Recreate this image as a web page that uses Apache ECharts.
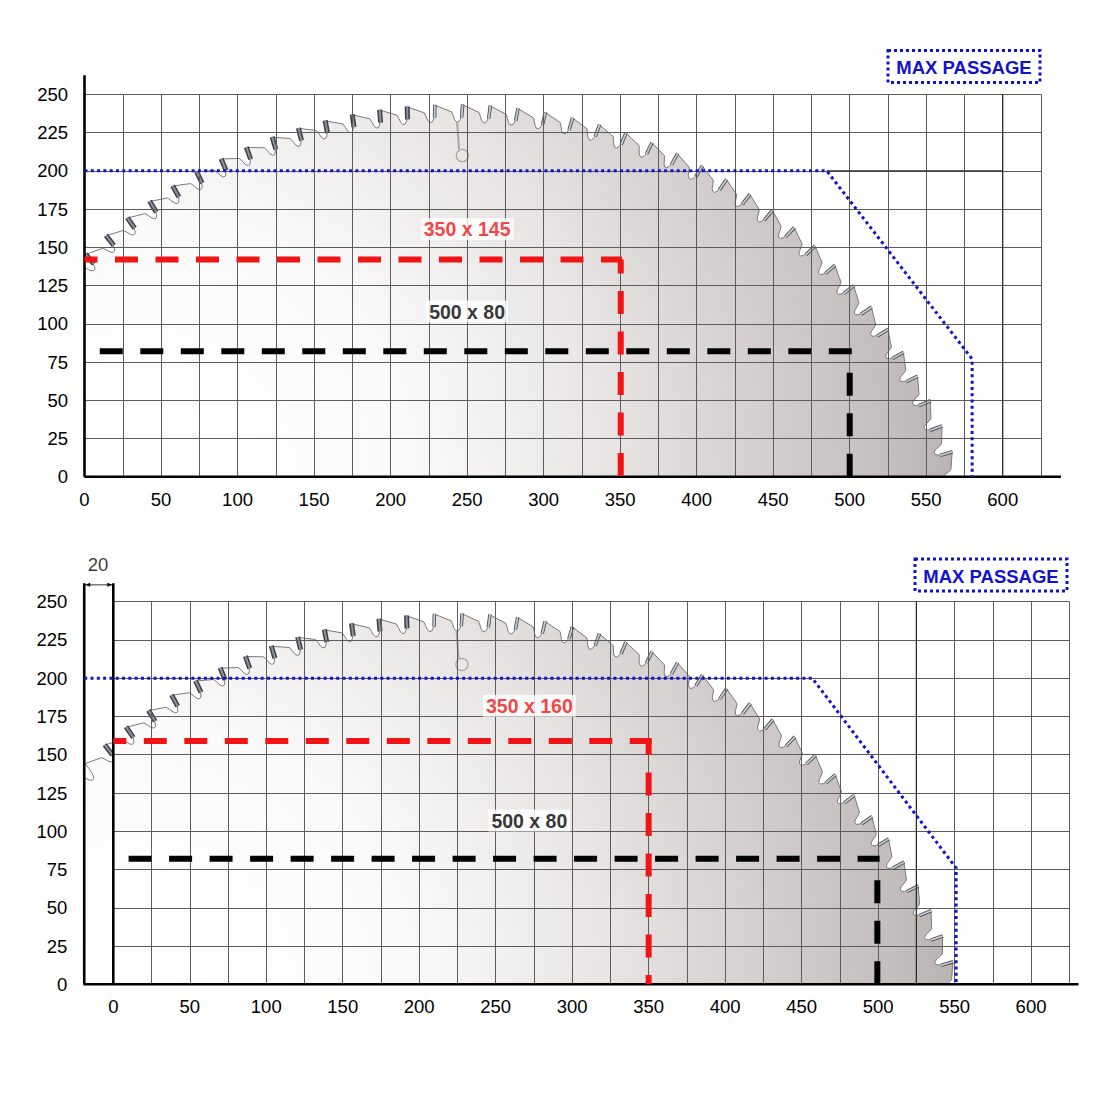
<!DOCTYPE html>
<html><head><meta charset="utf-8">
<script src="https://cdn.jsdelivr.net/npm/echarts@6/dist/echarts.min.js"></script>
<style>html,body{margin:0;padding:0;background:#fff}#c{width:1111px;height:1111px}</style>
</head><body><div id="c"></div>
<script>
// ---------- data (mm) ----------
const xRange = [0, 625];
const yRange = [0, 250];
const gridStep = 25;
const labelStep = 50;
const xLabelMax = 600;

// saw blade: [centre x, centre y, tip radius]
const bladeTop = [242, -103, 346];
const bladeBottom = [223, -105, 347];
const toothCount = 120;
const toothPhaseDeg = 20.1;

const maxPassageTop = [[0, 200], [485, 200], [580, 77], [580, 0]];
const maxPassageBottom = [[-19, 200], [457, 200], [551, 76], [551, 0]];

const redCutTopH = [[0, 142], [351.2, 142]];
const redCutTopV = [[350.4, 142], [350.4, 0]];
const blackCutTopH = [[10, 82], [502, 82]];
const blackCutTopV = [[500, 0], [500, 78]];
const redCutBottomH = [[0, 159], [352, 159]];
const redCutBottomV = [[350, 159], [350, 0]];
const blackCutBottomH = [[10, 82], [501, 82]];
const blackCutBottomV = [[499.5, 0], [499.5, 77]];

const cutLabelsTop = [[250, 162, '350 x 145'], [250, 108, '500 x 80']];
const cutLabelsBottom = [[272, 182, '350 x 160'], [272, 107, '500 x 80']];

const xAxisLineTop = [[0, 0], [638, 0]];
const yAxisLineTop = [[0, 0], [0, 262.5]];
const xAxisLineBottom = [[-19.5, 0], [631, 0]];
const yAxisLineBottom = [[0, 0], [0, 262]];
const fenceBottom = [[-19, 0], [-19, 262]];
const offsetDim = [[-19, 261], [0, 261]];
const offsetLabel = [[-10, 274, '20']];

const accentTop = [[[600, 0], [600, 250]], [[485, 200], [600, 200]]];
const accentBottom = [[[525, 0], [525, 250]]];

const maxPassageText = 'MAX PASSAGE';

// ---------- helpers ----------
const FONT = 'Liberation Sans, Arial, sans-serif';
const BLUE = '#1212cc';
const RED = '#f01414';

function clipPoly(pts, inside, cut) {
  const out = [];
  for (let i = 0; i < pts.length; i++) {
    const a = pts[i], b = pts[(i + 1) % pts.length];
    const ia = inside(a), ib = inside(b);
    if (ia) out.push(a);
    if (ia !== ib) out.push(cut(a, b));
  }
  return out;
}

function makeBladeRender(xmin) {
  return function (params, api) {
    const cx = api.value(0), cy = api.value(1), R = api.value(2);
    const p = 360 / toothCount;
    const prof = [[0, 0], [0.58, -4.5], [0.64, -7], [0.69, -9.5], [0.76, -11], [0.84, -11], [0.9, -9.5], [0.95, -7], [0.98, -4]];
    const rad = d => d * Math.PI / 180;
    const P = (r, d) => [cx + r * Math.cos(rad(d)), cy + r * Math.sin(rad(d))];
    const pts = [], tips = [];
    for (let k = 0; k < toothCount; k++) {
      const t = toothPhaseDeg - k * p;
      tips.push(t);
      for (const [f, dr] of prof) pts.push(P(R + dr, t - f * p));
    }
    let poly = clipPoly(pts, q => q[1] >= 0, (a, b) => { const s = (0 - a[1]) / (b[1] - a[1]); return [a[0] + s * (b[0] - a[0]), 0]; });
    poly = clipPoly(poly, q => q[0] >= xmin, (a, b) => { const s = (xmin - a[0]) / (b[0] - a[0]); return [xmin, a[1] + s * (b[1] - a[1])]; });
    const px = poly.map(q => api.coord(q));
    const gc = api.coord([cx - 202, cy + 103]);
    const gr = api.size([555, 0])[0];
    const children = [{
      type: 'polygon',
      shape: { points: px },
      style: {
        fill: { type: 'radial', x: gc[0], y: gc[1], r: gr, global: true,
          colorStops: [{ offset: 0, color: '#ffffff' }, { offset: 0.3, color: '#fbfafa' }, { offset: 0.55, color: '#e8e4e4' },
            { offset: 0.75, color: '#d2cccc' }, { offset: 0.9, color: '#c1bbbb' }, { offset: 1, color: '#b2abab' }] },
        stroke: '#7e7878', lineWidth: 1
      }
    }];
    const ok = q => q[1] >= 0.5 && q[0] >= xmin + 0.5;
    tips.forEach(t => {
      const a = P(R - 8, t + 0.05 * p), b = P(R + 0.4, t + 0.02 * p);
      if (!ok(a) || !ok(b)) return;
      const pa = api.coord(a), pb = api.coord(b);
      const n = ((t + 180) % 360 + 360) % 360 - 180;
      const dark = n > 95;
      children.push({ type: 'line', shape: { x1: pa[0], y1: pa[1], x2: pb[0], y2: pb[1] },
        style: { stroke: dark ? '#3c3e44' : '#4a4a4e', lineWidth: dark ? 5 : 3.5, lineCap: 'butt' } });
      children.push({ type: 'line', shape: { x1: pa[0], y1: pa[1], x2: pb[0], y2: pb[1] },
        style: { stroke: dark ? '#8e949d' : '#c4cbd4', lineWidth: dark ? 2 : 1.8, lineCap: 'butt' } });
    });
    const s1 = api.coord(P(R - 10.5, 89.76)), s2 = api.coord(P(R - 29, 89.5));
    const sc = api.coord(P(R - 33, 89.1));
    children.push({ type: 'line', shape: { x1: s1[0], y1: s1[1], x2: s2[0], y2: s2[1] }, style: { stroke: '#a9a6a6', lineWidth: 2 } });
    children.push({ type: 'circle', shape: { cx: sc[0], cy: sc[1], r: api.size([4, 0])[0] }, style: { fill: 'none', stroke: '#a9a6a6', lineWidth: 1.2 } });
    return { type: 'group', children };
  };
}

// polyline drawn through the axis scales (custom series, not clamped to the grid)
function polyS(idx, pts, style, z) {
  return {
    type: 'custom', xAxisIndex: idx, yAxisIndex: idx, z, silent: true, animation: false, clip: false,
    dimensions: ['x', 'y'], encode: { x: 0, y: 1 }, data: pts,
    renderItem: (params, api) => params.dataIndex !== 0 ? null : {
      type: 'polyline',
      shape: { points: pts.map(q => api.coord(q)) },
      style: Object.assign({ fill: 'none', lineCap: 'butt', lineJoin: 'miter' }, style)
    }
  };
}

function dimS(idx, pts, z) {
  return {
    type: 'custom', xAxisIndex: idx, yAxisIndex: idx, z, silent: true, animation: false, clip: false,
    dimensions: ['x', 'y'], encode: { x: 0, y: 1 }, data: pts,
    renderItem: (params, api) => {
      if (params.dataIndex !== 0) return null;
      const a = api.coord(pts[0]), b = api.coord(pts[1]);
      const L = 5, H = 2;
      return { type: 'group', children: [
        { type: 'line', shape: { x1: a[0], y1: a[1], x2: b[0], y2: b[1] }, style: { stroke: '#000', lineWidth: 0.8 } },
        { type: 'polygon', shape: { points: [[a[0] + 1, a[1]], [a[0] + 1 + L, a[1] - H], [a[0] + 1 + L, a[1] + H]] }, style: { fill: '#000' } },
        { type: 'polygon', shape: { points: [[b[0] - 1, b[1]], [b[0] - 1 - L, b[1] - H], [b[0] - 1 - L, b[1] + H]] }, style: { fill: '#000' } }
      ] };
    }
  };
}

function labelS(idx, arr, colors, size, bold, bg) {
  return {
    type: 'scatter', xAxisIndex: idx, yAxisIndex: idx, symbolSize: 0, silent: true, z: 10, animation: false, clip: false,
    data: arr.map((d, i) => ({ value: [d[0], d[1]], name: d[2], label: { color: colors[i] } })),
    label: { show: true, position: 'inside', formatter: q => q.name, fontFamily: FONT, fontSize: size,
      fontWeight: bold ? 'bold' : 'normal', backgroundColor: bg ? '#fff' : 'transparent', padding: bg ? [1, 3] : 0 }
  };
}

function xAx(idx) {
  return {
    gridIndex: idx, type: 'value', min: xRange[0], max: xRange[1], interval: gridStep,
    axisLine: { show: false }, axisTick: { show: false },
    axisLabel: { formatter: v => (v % labelStep === 0 && v <= xLabelMax) ? String(v) : '', color: '#000', fontSize: 18.5, fontFamily: FONT, margin: 13 },
    splitLine: { show: true, lineStyle: { color: '#5c5c5c', width: 1 } }
  };
}
function yAx(idx, margin) {
  return {
    gridIndex: idx, type: 'value', min: yRange[0], max: yRange[1], interval: gridStep,
    axisLine: { show: false }, axisTick: { show: false },
    axisLabel: { color: '#000', fontSize: 18.5, fontFamily: FONT, margin },
    splitLine: { show: true, lineStyle: { color: '#5c5c5c', width: 1 } }
  };
}

const dash = [23, 17.5];
const dot = [3, 3.3];
const axisStyle = { stroke: '#000', lineWidth: 2.6 };
const redHStyle = { stroke: RED, lineWidth: 6, lineDash: dash, lineDashOffset: 10 };
const redVStyle = { stroke: RED, lineWidth: 6, lineDash: dash, lineDashOffset: 9 };
const blackStyle = { stroke: '#000', lineWidth: 6, lineDash: dash };
const blueStyle = { stroke: BLUE, lineWidth: 3, lineDash: dot };
const accentStyle = { stroke: '#2a2a2a', lineWidth: 1.2 };

const series = [
  { type: 'custom', xAxisIndex: 0, yAxisIndex: 0, z: -1, silent: true, animation: false, clip: false,
    dimensions: ['cx', 'cy', 'r'], encode: { x: 0, y: 1 }, data: [bladeTop], renderItem: makeBladeRender(0) },
  { type: 'custom', xAxisIndex: 1, yAxisIndex: 1, z: -1, silent: true, animation: false, clip: false,
    dimensions: ['cx', 'cy', 'r'], encode: { x: 0, y: 1 }, data: [bladeBottom], renderItem: makeBladeRender(fenceBottom[0][0]) },

  ...accentTop.map(d => polyS(0, d, accentStyle, 1)),
  ...accentBottom.map(d => polyS(1, d, accentStyle, 1)),

  polyS(0, xAxisLineTop, axisStyle, 3),
  polyS(0, yAxisLineTop, axisStyle, 3),
  polyS(1, xAxisLineBottom, axisStyle, 3),
  polyS(1, yAxisLineBottom, axisStyle, 3),
  polyS(1, fenceBottom, axisStyle, 3),
  dimS(1, offsetDim, 3),

  polyS(0, redCutTopH, redHStyle, 5),
  polyS(0, redCutTopV, redVStyle, 5),
  polyS(0, blackCutTopH, blackStyle, 5),
  polyS(0, blackCutTopV, blackStyle, 5),
  polyS(1, redCutBottomH, redHStyle, 5),
  polyS(1, redCutBottomV, redVStyle, 5),
  polyS(1, blackCutBottomH, blackStyle, 5),
  polyS(1, blackCutBottomV, blackStyle, 5),

  polyS(0, maxPassageTop, blueStyle, 6),
  polyS(1, maxPassageBottom, blueStyle, 6),

  labelS(0, cutLabelsTop, [RED, '#000'], 19.5, true, true),
  labelS(1, cutLabelsBottom, [RED, '#000'], 19.5, true, true),
  labelS(1, offsetLabel, ['#000'], 18.5, false, false)
];

function passageBox(x, y, w, h) {
  return [
    { type: 'rect', shape: { x, y, width: w, height: h }, style: { fill: '#fff', stroke: BLUE, lineWidth: 3, lineDash: [3, 3] }, z: 20 },
    { type: 'text', x: x + w / 2, y: y + h / 2 + 1, style: { text: maxPassageText, fill: BLUE, font: 'bold 18.5px ' + FONT, align: 'center', verticalAlign: 'middle' }, z: 21 }
  ];
}

const chart = echarts.init(document.getElementById('c'), null, { renderer: 'svg' });
chart.setOption({
  backgroundColor: '#fff',
  animation: false,
  grid: [
    { left: 84.5, top: 94.3, width: 956.5, height: 382.5 },
    { left: 113.3, top: 601.7, width: 956, height: 382.6 }
  ],
  xAxis: [xAx(0), xAx(1)],
  yAxis: [yAx(0, 16.5), yAx(1, 46)],
  graphic: [...passageBox(888, 50.5, 152, 32), ...passageBox(915, 559, 152, 32)],
  series
});
</script></body></html>
